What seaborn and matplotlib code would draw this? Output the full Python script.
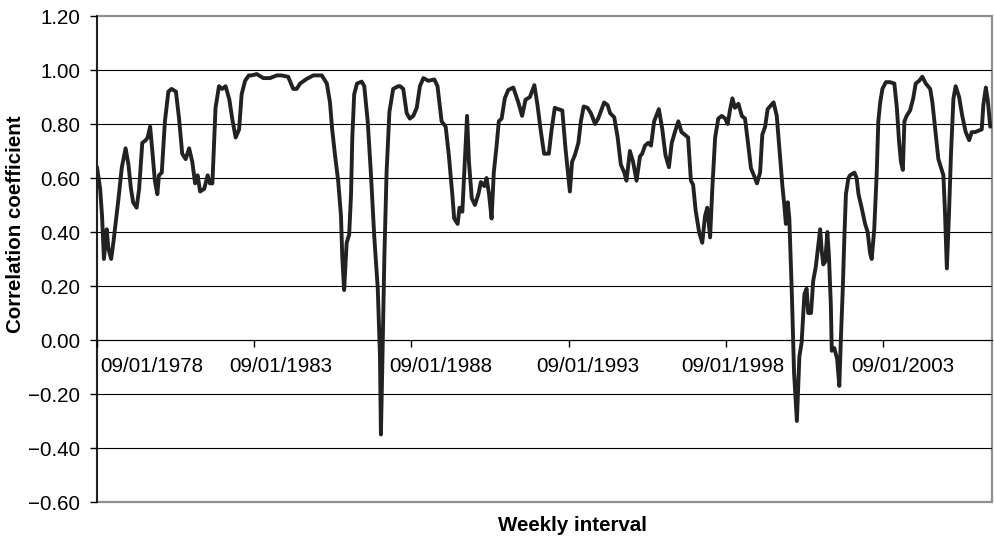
import matplotlib
matplotlib.use("Agg")
import matplotlib.pyplot as plt
import matplotlib.patches as mpatches
from matplotlib.ticker import FixedLocator
import seaborn as sns
import pandas as pd

# ---- data ----
years = [
    1978.67, 1978.77, 1978.83, 1978.89, 1978.98, 1979.03, 1979.12, 1979.19, 1979.35, 1979.46,
    1979.58, 1979.67, 1979.75, 1979.82, 1979.93, 1980.01, 1980.11, 1980.22, 1980.28, 1980.36,
    1980.43, 1980.51, 1980.59, 1980.64, 1980.73, 1980.83, 1980.94, 1981.04, 1981.18, 1981.28,
    1981.38, 1981.49, 1981.60, 1981.70, 1981.79, 1981.87, 1981.95, 1982.08, 1982.19, 1982.26,
    1982.34, 1982.44, 1982.55, 1982.65, 1982.76, 1982.88, 1982.97, 1983.08, 1983.19, 1983.27,
    1983.38, 1983.50, 1983.59, 1983.75, 1983.96, 1984.17, 1984.39, 1984.54, 1984.75, 1984.91,
    1985.02, 1985.13, 1985.34, 1985.55, 1985.82, 1985.98, 1986.08, 1986.15, 1986.24, 1986.34,
    1986.43, 1986.47, 1986.53, 1986.61, 1986.69, 1986.75, 1986.79, 1986.85, 1986.94, 1987.09,
    1987.17, 1987.28, 1987.38, 1987.49, 1987.60, 1987.67, 1987.70, 1987.74, 1987.81, 1987.88,
    1987.97, 1988.09, 1988.25, 1988.31, 1988.41, 1988.52, 1988.62, 1988.73, 1988.84, 1988.94,
    1989.05, 1989.21, 1989.40, 1989.50, 1989.63, 1989.76, 1989.86, 1989.97, 1990.03, 1990.14,
    1990.20, 1990.29, 1990.37, 1990.44, 1990.50, 1990.59, 1990.69, 1990.80, 1990.88, 1990.99,
    1991.06, 1991.14, 1991.22, 1991.29, 1991.38, 1991.45, 1991.54, 1991.64, 1991.75, 1991.91,
    1992.07, 1992.19, 1992.30, 1992.44, 1992.58, 1992.68, 1992.79, 1992.89, 1992.97, 1993.04,
    1993.13, 1993.23, 1993.34, 1993.47, 1993.57, 1993.71, 1993.78, 1993.87, 1993.98, 1994.06,
    1994.15, 1994.27, 1994.38, 1994.51, 1994.61, 1994.72, 1994.80, 1994.91, 1994.99, 1995.12,
    1995.23, 1995.33, 1995.44, 1995.51, 1995.62, 1995.72, 1995.83, 1995.94, 1996.01, 1996.10,
    1996.20, 1996.29, 1996.39, 1996.54, 1996.65, 1996.75, 1996.86, 1996.95, 1997.05, 1997.16,
    1997.26, 1997.37, 1997.47, 1997.56, 1997.63, 1997.71, 1997.82, 1997.92, 1998.01, 1998.08,
    1998.17, 1998.24, 1998.33, 1998.43, 1998.54, 1998.65, 1998.73, 1998.80, 1998.88, 1998.96,
    1999.07, 1999.18, 1999.28, 1999.37, 1999.47, 1999.58, 1999.66, 1999.76, 1999.83, 1999.92,
    2000.00, 2000.11, 2000.19, 2000.29, 2000.39, 2000.47, 2000.53, 2000.58, 2000.64, 2000.69,
    2000.77, 2000.84, 2000.93, 2001.01, 2001.08, 2001.17, 2001.24, 2001.29, 2001.38, 2001.45,
    2001.53, 2001.59, 2001.67, 2001.72, 2001.77, 2001.83, 2001.90, 2001.95, 2002.01, 2002.04,
    2002.12, 2002.21, 2002.28, 2002.33, 2002.39, 2002.44, 2002.49, 2002.57, 2002.62, 2002.76,
    2002.83, 2002.89, 2002.99, 2003.10, 2003.18, 2003.26, 2003.31, 2003.39, 2003.47, 2003.52,
    2003.58, 2003.65, 2003.76, 2003.89, 2004.03, 2004.11, 2004.18, 2004.24, 2004.30, 2004.35,
    2004.42, 2004.53, 2004.63, 2004.71, 2004.82, 2004.92, 2005.03, 2005.17, 2005.24, 2005.33,
    2005.43, 2005.52, 2005.59, 2005.64, 2005.70, 2005.77, 2005.83, 2005.91, 2005.98, 2006.09,
    2006.19, 2006.30, 2006.41, 2006.49, 2006.60, 2006.70, 2006.81, 2006.86, 2006.94, 2007.00,
    2007.08,
]
corr = [
    0.64, 0.56, 0.46, 0.30, 0.41, 0.34, 0.30, 0.36, 0.52, 0.64,
    0.71, 0.65, 0.56, 0.51, 0.49, 0.56, 0.73, 0.74, 0.75, 0.79,
    0.70, 0.59, 0.54, 0.61, 0.62, 0.81, 0.92, 0.93, 0.92, 0.82,
    0.69, 0.67, 0.71, 0.66, 0.58, 0.61, 0.55, 0.56, 0.61, 0.58,
    0.58, 0.86, 0.94, 0.93, 0.94, 0.89, 0.82, 0.75, 0.78, 0.91,
    0.96, 0.98, 0.98, 0.985, 0.97, 0.97, 0.98, 0.98, 0.975, 0.93,
    0.93, 0.95, 0.967, 0.98, 0.98, 0.95, 0.88, 0.78, 0.685, 0.59,
    0.46, 0.31, 0.185, 0.36, 0.39, 0.54, 0.75, 0.91, 0.95, 0.957,
    0.94, 0.81, 0.62, 0.38, 0.19, -0.06, -0.35, -0.12, 0.31, 0.62,
    0.845, 0.93, 0.94, 0.94, 0.93, 0.84, 0.82, 0.83, 0.86, 0.94,
    0.97, 0.96, 0.965, 0.94, 0.81, 0.79, 0.685, 0.54, 0.45, 0.43,
    0.49, 0.475, 0.66, 0.83, 0.66, 0.525, 0.50, 0.54, 0.585, 0.57,
    0.60, 0.54, 0.45, 0.62, 0.72, 0.81, 0.82, 0.895, 0.926, 0.935,
    0.88, 0.83, 0.89, 0.90, 0.944, 0.87, 0.77, 0.69, 0.69, 0.69,
    0.78, 0.86, 0.855, 0.85, 0.71, 0.55, 0.66, 0.685, 0.73, 0.81,
    0.865, 0.86, 0.84, 0.80, 0.82, 0.855, 0.88, 0.87, 0.84, 0.825,
    0.75, 0.65, 0.62, 0.59, 0.70, 0.66, 0.59, 0.68, 0.69, 0.72,
    0.73, 0.72, 0.81, 0.855, 0.78, 0.685, 0.64, 0.73, 0.77, 0.81,
    0.77, 0.76, 0.75, 0.59, 0.575, 0.48, 0.40, 0.36, 0.46, 0.49,
    0.38, 0.56, 0.75, 0.82, 0.83, 0.82, 0.80, 0.85, 0.895, 0.86,
    0.875, 0.83, 0.82, 0.735, 0.636, 0.605, 0.58, 0.62, 0.76, 0.79,
    0.855, 0.87, 0.88, 0.83, 0.685, 0.57, 0.50, 0.43, 0.51, 0.45,
    0.17, -0.12, -0.30, -0.06, -0.01, 0.17, 0.19, 0.10, 0.10, 0.22,
    0.27, 0.33, 0.41, 0.33, 0.28, 0.29, 0.40, 0.31, 0.13, -0.04,
    -0.03, -0.07, -0.17, 0.006, 0.19, 0.38, 0.54, 0.60, 0.61, 0.62,
    0.60, 0.54, 0.49, 0.43, 0.40, 0.32, 0.30, 0.41, 0.62, 0.81,
    0.88, 0.93, 0.955, 0.955, 0.95, 0.86, 0.735, 0.66, 0.63, 0.81,
    0.83, 0.85, 0.895, 0.95, 0.96, 0.975, 0.95, 0.93, 0.88, 0.78,
    0.67, 0.636, 0.61, 0.475, 0.265, 0.475, 0.685, 0.895, 0.94, 0.90,
    0.83, 0.77, 0.74, 0.77, 0.77, 0.775, 0.78, 0.87, 0.935, 0.89,
    0.79,
]
tick_marks = [1978.67, 1983.67, 1988.67, 1993.67, 1998.67, 2003.67]
tick_label_pos = [1980.42, 1984.52, 1989.61, 1994.29, 1998.90, 2004.31]
tick_labels = ["09/01/1978", "09/01/1983", "09/01/1988", "09/01/1993", "09/01/1998", "09/01/2003"]
y_ticks = [-0.6, -0.4, -0.2, 0.0, 0.2, 0.4, 0.6, 0.8, 1.0, 1.2]
x_range = (1978.67, 2007.12)

df = pd.DataFrame({"year": years, "corr": corr})

sns.set_theme(style="white")
plt.rcParams["font.family"] = ["Liberation Sans", "DejaVu Sans"]

W, H = 994, 539
fig = plt.figure(figsize=(W / 100, H / 100), dpi=100)
ax = fig.add_axes([97 / W, 1 - 502 / H, (991.5 - 97) / W, (502 - 16) / H])

# horizontal grid lines (interior)
for v in y_ticks[1:-1]:
    ax.axhline(v, color="black", lw=0.8, zorder=1)

sns.lineplot(data=df, x="year", y="corr", ax=ax, color="#222222", lw=2.8,
             zorder=3, sort=False, estimator=None,
             solid_joinstyle="round", solid_capstyle="round")

ax.set_xlim(*x_range)
ax.set_ylim(y_ticks[0], y_ticks[-1])

# frame
for s in ["top", "right"]:
    ax.spines[s].set_visible(False)
ax.spines["left"].set_color("black")
ax.spines["left"].set_linewidth(1.1)
ax.spines["bottom"].set_position(("data", 0))
ax.spines["bottom"].set_color("black")
ax.spines["bottom"].set_linewidth(0.8)
frame = mpatches.Rectangle((0, 0), 1, 1, transform=ax.transAxes, fill=False,
                           edgecolor="#8f8f8f", lw=1.6, zorder=0.5, clip_on=False)
ax.add_patch(frame)

# y axis ticks
ax.set_yticks(y_ticks)
ax.set_yticklabels([f"{v:.2f}".replace("-", "\u2212") for v in y_ticks])
ax.tick_params(axis="y", which="major", direction="out", length=5, width=1,
               color="black", pad=7, labelsize=14.8, labelcolor="black", left=True)

# x axis: tick marks and label positions
ax.xaxis.set_minor_locator(FixedLocator(tick_marks))
ax.set_xticks(tick_label_pos)
ax.set_xticklabels(tick_labels)
ax.tick_params(axis="x", which="major", length=0, pad=12, labelsize=14.8,
               labelcolor="black", bottom=True)
ax.tick_params(axis="x", which="minor", direction="out", length=5, width=1,
               color="black", bottom=True)

ax.set_xlabel("")
ax.set_ylabel("")
fig.text(16 / W, 1 - 224 / H, "Correlation coefficient", rotation=90,
         ha="center", va="center", fontsize=14.8, fontweight="bold", color="black")
fig.text(573 / W, 1 - 531 / H, "Weekly interval", ha="center", va="baseline",
         fontsize=14.8, fontweight="bold", color="black")

fig.savefig("out.png", dpi=100, facecolor="white")
